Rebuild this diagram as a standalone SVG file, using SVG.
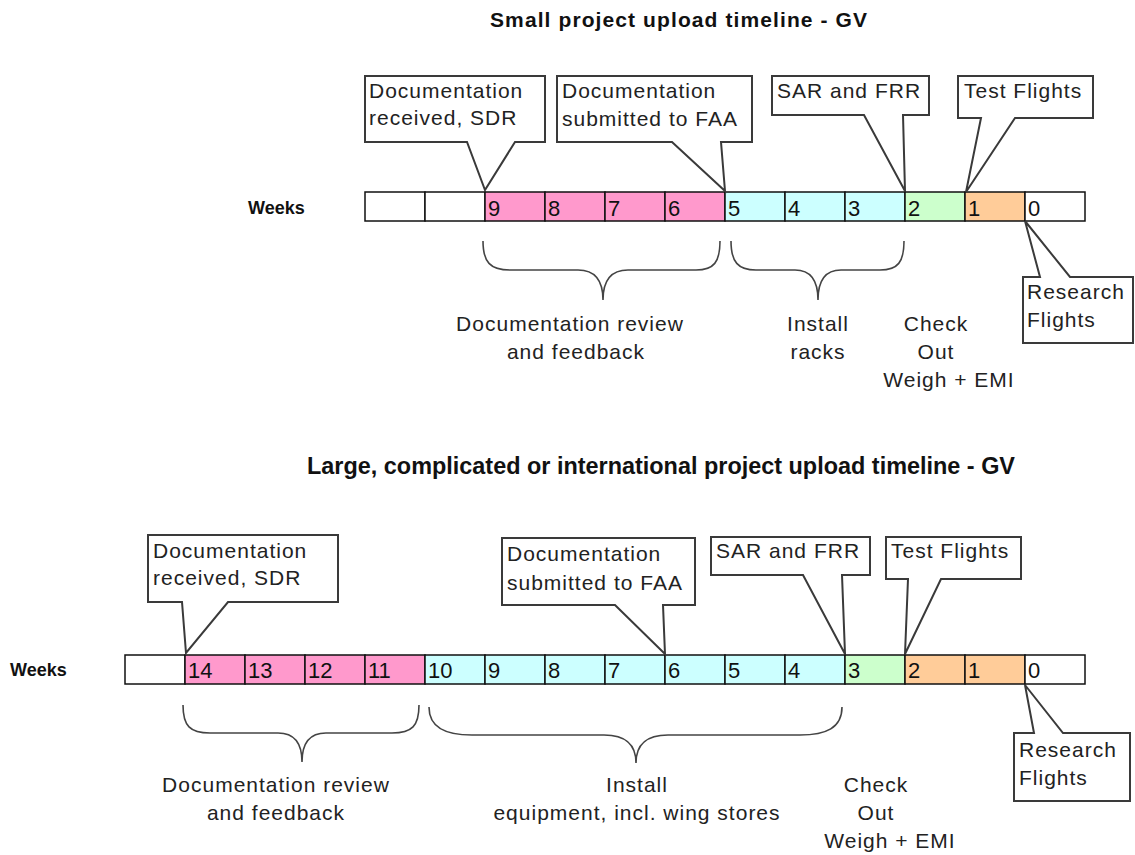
<svg xmlns="http://www.w3.org/2000/svg" width="1135" height="855" viewBox="0 0 1135 855">
<style>
.bg{fill:#ffffff}
.title{font-family:"Liberation Sans",Arial,sans-serif;font-weight:bold;fill:#111}
.weeks{font-family:"Liberation Sans",Arial,sans-serif;font-weight:bold;font-size:18px;fill:#111}
.cell{stroke:#111;stroke-width:1.5}
.w{fill:#ffffff}.p{fill:#ff99cc}.c{fill:#ccffff}.g{fill:#ccffcc}.o{fill:#ffcc99}
.num{font-family:"Liberation Sans",Arial,sans-serif;font-size:22px;fill:#111}
.call{fill:#ffffff;stroke:#3a3a3a;stroke-width:2;stroke-linejoin:miter}
.lbl{font-family:"Liberation Sans",Arial,sans-serif;font-size:21px;letter-spacing:1px;fill:#222}
.mid{text-anchor:middle}
.brace{fill:none;stroke:#444;stroke-width:1.6}
</style>
<rect class="bg" x="0" y="0" width="1135" height="855"/>

<g id="title-small"><text class="title" x="490" y="27" font-size="21" letter-spacing="1.1">Small project upload timeline - GV</text></g>
<g id="title-large"><text class="title" x="307" y="474" font-size="24" textLength="708" lengthAdjust="spacingAndGlyphs">Large, complicated or international project upload timeline - GV</text></g>

<!-- Top timeline -->
<g id="weeks-top"><text class="weeks" x="248" y="214">Weeks</text></g>
<g id="timeline-top">
<rect class="cell w" x="365" y="192" width="60" height="29"/>
<rect class="cell w" x="425" y="192" width="60" height="29"/>
<rect class="cell p" x="485" y="192" width="60" height="29"/>
<rect class="cell p" x="545" y="192" width="60" height="29"/>
<rect class="cell p" x="605" y="192" width="60" height="29"/>
<rect class="cell p" x="665" y="192" width="60" height="29"/>
<rect class="cell c" x="725" y="192" width="60" height="29"/>
<rect class="cell c" x="785" y="192" width="60" height="29"/>
<rect class="cell c" x="845" y="192" width="60" height="29"/>
<rect class="cell g" x="905" y="192" width="60" height="29"/>
<rect class="cell o" x="965" y="192" width="60" height="29"/>
<rect class="cell w" x="1025" y="192" width="60" height="29"/>
<text class="num" x="488" y="216">9</text>
<text class="num" x="548" y="216">8</text>
<text class="num" x="608" y="216">7</text>
<text class="num" x="668" y="216">6</text>
<text class="num" x="728" y="216">5</text>
<text class="num" x="788" y="216">4</text>
<text class="num" x="848" y="216">3</text>
<text class="num" x="908" y="216">2</text>
<text class="num" x="968" y="216">1</text>
<text class="num" x="1028" y="216">0</text>
</g>

<g id="top-doc-received">
<polygon class="call" points="365,76 545,76 545,142 515,142 485,190 467,142 365,142"/>
<text class="lbl" x="369" y="98">Documentation</text>
<text class="lbl" x="369" y="125">received, SDR</text>
</g>
<g id="top-doc-submitted">
<polygon class="call" points="557,76 752,76 752,142 721,142 725,191 672,142 557,142"/>
<text class="lbl" x="562" y="98">Documentation</text>
<text class="lbl" x="562" y="126">submitted to FAA</text>
</g>
<g id="top-sar">
<polygon class="call" points="772,76 929,76 929,115 903,115 905,191 864,115 772,115"/>
<text class="lbl" x="777" y="98">SAR and FRR</text>
</g>
<g id="top-test">
<polygon class="call" points="958,76 1093,76 1093,118 1015,118 966,192 981,118 958,118"/>
<text class="lbl" x="964" y="98">Test Flights</text>
</g>
<g id="top-research">
<polygon class="call" points="1023,277 1040,277 1025,221 1070,277 1133,277 1133,343 1023,343"/>
<text class="lbl" x="1027" y="299">Research</text>
<text class="lbl" x="1027" y="327">Flights</text>
</g>

<g id="braces">
<path class="brace" d="M483,241 C483,262 490,270 510,270 L578,270 C595,270 603,280 603,300 C603,280 611,270 628,270 L696,270 C714,270 720,262 720,241"/>
<path class="brace" d="M731,241 C731,262 738,270 756,270 L795,270 C811,270 818,280 818,300 C818,280 825,270 841,270 L880,270 C898,270 904,262 904,241"/>
<path class="brace" d="M183,705 C183,726 190,733 210,733 L278,733 C294,733 302,743 302,762 C302,743 310,733 326,733 L392,733 C412,733 419,726 419,705"/>
<path class="brace" d="M429,707 C429,728 446,735 472,735 L604,735 C626,735 636,745 636,763 C636,745 646,735 668,735 L800,735 C826,735 842,728 842,707"/>
</g>

<g id="top-phase-doc">
<text class="lbl mid" x="570" y="331">Documentation review</text>
<text class="lbl mid" x="576" y="359">and feedback</text>
</g>
<g id="top-phase-install">
<text class="lbl mid" x="818" y="331">Install</text>
<text class="lbl mid" x="818" y="359">racks</text>
</g>
<g id="top-phase-check">
<text class="lbl mid" x="936" y="331">Check</text>
<text class="lbl mid" x="936" y="359">Out</text>
<text class="lbl mid" x="949" y="387">Weigh + EMI</text>
</g>

<!-- Bottom timeline -->
<g id="weeks-bottom"><text class="weeks" x="10" y="676">Weeks</text></g>
<g id="timeline-bottom">
<rect class="cell w" x="125" y="655" width="60" height="29"/>
<rect class="cell p" x="185" y="655" width="60" height="29"/>
<rect class="cell p" x="245" y="655" width="60" height="29"/>
<rect class="cell p" x="305" y="655" width="60" height="29"/>
<rect class="cell p" x="365" y="655" width="60" height="29"/>
<rect class="cell c" x="425" y="655" width="60" height="29"/>
<rect class="cell c" x="485" y="655" width="60" height="29"/>
<rect class="cell c" x="545" y="655" width="60" height="29"/>
<rect class="cell c" x="605" y="655" width="60" height="29"/>
<rect class="cell c" x="665" y="655" width="60" height="29"/>
<rect class="cell c" x="725" y="655" width="60" height="29"/>
<rect class="cell c" x="785" y="655" width="60" height="29"/>
<rect class="cell g" x="845" y="655" width="60" height="29"/>
<rect class="cell o" x="905" y="655" width="60" height="29"/>
<rect class="cell o" x="965" y="655" width="60" height="29"/>
<rect class="cell w" x="1025" y="655" width="60" height="29"/>
<text class="num" x="188" y="678">14</text>
<text class="num" x="248" y="678">13</text>
<text class="num" x="308" y="678">12</text>
<text class="num" x="368" y="678">11</text>
<text class="num" x="428" y="678">10</text>
<text class="num" x="488" y="678">9</text>
<text class="num" x="548" y="678">8</text>
<text class="num" x="608" y="678">7</text>
<text class="num" x="668" y="678">6</text>
<text class="num" x="728" y="678">5</text>
<text class="num" x="788" y="678">4</text>
<text class="num" x="848" y="678">3</text>
<text class="num" x="908" y="678">2</text>
<text class="num" x="968" y="678">1</text>
<text class="num" x="1028" y="678">0</text>
</g>

<g id="bottom-doc-received">
<polygon class="call" points="148,535 338,535 338,602 228,602 186,653 182,602 148,602"/>
<text class="lbl" x="153" y="558">Documentation</text>
<text class="lbl" x="153" y="585">received, SDR</text>
</g>
<g id="bottom-doc-submitted">
<polygon class="call" points="502,538 695,538 695,605 663,605 665,654 615,605 502,605"/>
<text class="lbl" x="507" y="561">Documentation</text>
<text class="lbl" x="507" y="590">submitted to FAA</text>
</g>
<g id="bottom-sar">
<polygon class="call" points="711,537 870,537 870,575 842,575 845,654 803,575 711,575"/>
<text class="lbl" x="716" y="558">SAR and FRR</text>
</g>
<g id="bottom-test">
<polygon class="call" points="886,537 1021,537 1021,579 941,579 905,654 908,579 886,579"/>
<text class="lbl" x="891" y="558">Test Flights</text>
</g>
<g id="bottom-research">
<polygon class="call" points="1014,733 1034,733 1025,685 1063,733 1130,733 1130,801 1014,801"/>
<text class="lbl" x="1019" y="757">Research</text>
<text class="lbl" x="1019" y="785">Flights</text>
</g>

<g id="bottom-phase-doc">
<text class="lbl mid" x="276" y="792">Documentation review</text>
<text class="lbl mid" x="276" y="820">and feedback</text>
</g>
<g id="bottom-phase-install">
<text class="lbl mid" x="637" y="792">Install</text>
<text class="lbl mid" x="637" y="820">equipment, incl. wing stores</text>
</g>
<g id="bottom-phase-check">
<text class="lbl mid" x="876" y="792">Check</text>
<text class="lbl mid" x="876" y="820">Out</text>
<text class="lbl mid" x="890" y="848">Weigh + EMI</text>
</g>
</svg>
